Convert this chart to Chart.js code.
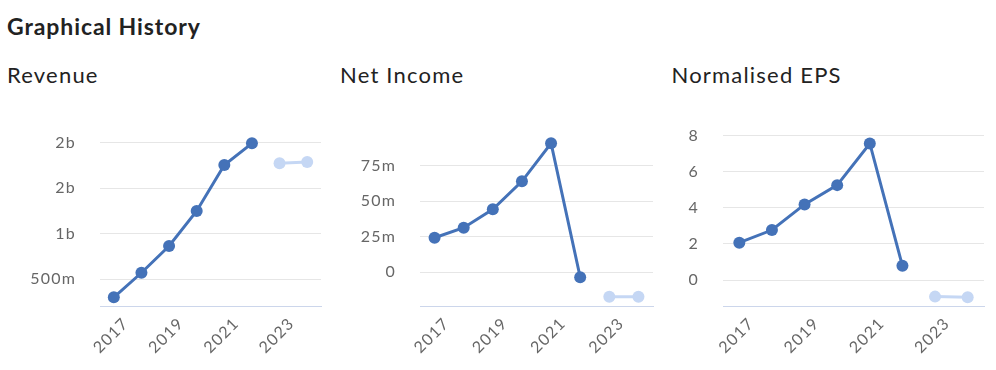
<!DOCTYPE html>
<html>
<head>
<meta charset="utf-8">
<script src="https://cdn.jsdelivr.net/npm/chart.js@4.4.0/dist/chart.umd.min.js"></script>
<style>
  html, body { margin: 0; padding: 0; background: #ffffff; }
  body { width: 996px; height: 370px; position: relative; overflow: hidden; font-family: Lato, "Open Sans", sans-serif; }
  .t { position: absolute; white-space: nowrap; line-height: 1; color: #222222; }
  #title { left: 7px; top: 14.6px; font-size: 23px; font-weight: bold; letter-spacing: 0.9px; }
  .sub { font-size: 22px; top: 63.8px; letter-spacing: 1.2px; }
  canvas { position: absolute; }
</style>
</head>
<body>
<canvas id="c1" width="321" height="275" style="left:10px;top:95px;width:321px;height:275px"></canvas>
<canvas id="c2" width="323" height="275" style="left:340px;top:95px;width:323px;height:275px"></canvas>
<canvas id="c3" width="351" height="275" style="left:643px;top:95px;width:351px;height:275px"></canvas>
<div class="t" id="title">Graphical History</div>
<div class="t sub" style="left:7px">Revenue</div>
<div class="t sub" style="left:340px">Net Income</div>
<div class="t sub" style="left:671.5px">Normalised EPS</div>
<script>
// ---- data ----
const years = ["2017","2018","2019","2020","2021","2022","2023","2024"];

// Revenue (millions)
const revenueActual   = [302, 572, 866, 1250, 1755, 1993, null, null];
const revenueForecast = [null, null, null, null, null, null, 1774, 1788];
const revenueTicks      = [500, 1000, 1500, 2000];
const revenueTickLabels = ["500m", "1b", "2b", "2b"];

// Net income (millions)
const netIncomeActual   = [24.3, 31.4, 44.3, 64.0, 90.8, -3.5, null, null];
const netIncomeForecast = [null, null, null, null, null, null, -17.2, -17.2];
const netIncomeTicks      = [0, 25, 50, 75];
const netIncomeTickLabels = ["0", "25m", "50m", "75m"];

// Normalised EPS
const epsActual   = [2.07, 2.77, 4.19, 5.26, 7.57, 0.79, null, null];
const epsForecast = [null, null, null, null, null, null, -0.92, -0.96];
const epsTicks      = [0, 2, 4, 6, 8];
const epsTickLabels = ["0", "2", "4", "6", "8"];

// ---- styling ----
const DARK = "#4472B8";
const LIGHT = "#C5D7F4";
const TICK_COLOR = "#666666";
const FONT = { family: "Lato", size: 16 };

const spacingPlugin = {
  id: "spacing",
  beforeDraw: function(chart) { chart.ctx.letterSpacing = "1.2px"; }
};

function makeChart(id, actual, forecast, ticks, tickLabels, yMin, yMax, padTop, yAxisWidth) {
  const ds = (data, color) => ({
    data: data,
    borderColor: color,
    backgroundColor: color,
    borderWidth: 3,
    pointRadius: 6,
    pointHoverRadius: 6,
    pointBorderWidth: 0,
    pointBackgroundColor: color,
    tension: 0,
    spanGaps: false,
    clip: false
  });
  return new Chart(document.getElementById(id), {
    type: "line",
    data: { labels: years, datasets: [ds(actual, DARK), ds(forecast, LIGHT)] },
    plugins: [spacingPlugin],
    options: {
      responsive: false,
      animation: false,
      devicePixelRatio: 1,
      layout: { padding: { top: padTop, right: 10, bottom: 0, left: 0 } },
      plugins: { legend: { display: false }, tooltip: { enabled: false } },
      scales: {
        x: {
          type: "category",
          offset: true,
          grid: { display: false },
          border: { display: true, color: "#ccd6eb", width: 1 },
          ticks: {
            color: TICK_COLOR,
            font: FONT,
            autoSkip: false,
            maxRotation: 45,
            minRotation: 45,
            padding: 0,
            labelOffset: 12,
            callback: function(v, i) { return i % 2 === 0 ? years[i] : ""; }
          },
          afterFit: function(s) { s.height = 64; }
        },
        y: {
          type: "linear",
          min: yMin,
          max: yMax,
          grid: { color: "#e6e6e6", lineWidth: 1, drawTicks: false },
          border: { display: false },
          ticks: {
            color: TICK_COLOR,
            font: FONT,
            padding: 24,
            callback: function(v) {
              const i = ticks.indexOf(v);
              return i >= 0 ? tickLabels[i] : "";
            }
          },
          afterBuildTicks: function(s) { s.ticks = ticks.map(v => ({ value: v })); },
          afterFit: function(s) { s.width = yAxisWidth; }
        }
      }
    }
  });
}

makeChart("c1", revenueActual, revenueForecast, revenueTicks, revenueTickLabels, 207, 2000, 47.7, 90);
makeChart("c2", netIncomeActual, netIncomeForecast, netIncomeTicks, netIncomeTickLabels, -23.7, 91.2, 47.7, 80);
makeChart("c3", epsActual, epsForecast, epsTicks, epsTickLabels, -1.44, 8, 40.7, 80);
</script>
</body>
</html>
